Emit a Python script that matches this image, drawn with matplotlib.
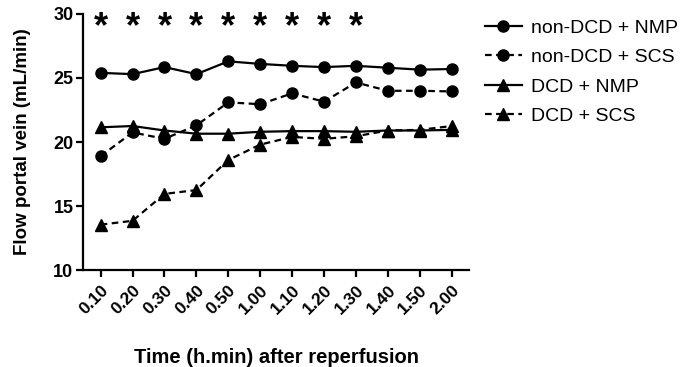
import matplotlib
matplotlib.use("Agg")
import matplotlib.pyplot as plt

plt.rcParams["font.family"] = ["Liberation Sans", "DejaVu Sans"]

time_labels = ["0.10", "0.20", "0.30", "0.40", "0.50", "1.00",
               "1.10", "1.20", "1.30", "1.40", "1.50", "2.00"]
non_dcd_nmp = [25.4, 25.3, 25.85, 25.3, 26.3, 26.1, 25.95, 25.85, 25.95, 25.8, 25.65, 25.7]
non_dcd_scs = [18.9, 20.75, 20.25, 21.3, 23.1, 22.95, 23.8, 23.15, 24.65, 24.0, 24.0, 23.95]
dcd_nmp = [21.15, 21.25, 20.9, 20.65, 20.65, 20.8, 20.85, 20.85, 20.8, 20.9, 20.9, 20.95]
dcd_scs = [13.55, 13.85, 15.95, 16.25, 18.6, 19.8, 20.4, 20.25, 20.45, 20.9, 20.95, 21.25]
signif = [True] * 9 + [False] * 3

x = list(range(len(time_labels)))

fig = plt.figure(figsize=(6.87, 3.67), dpi=100)
ax = fig.add_axes([0.121, 0.264, 0.562, 0.698])

ax.plot(x, non_dcd_nmp, "-", marker="o", color="black", lw=1.6, ms=8, label="non-DCD + NMP")
ax.plot(x, non_dcd_scs, "--", marker="o", color="black", lw=1.6, ms=8, dashes=(3, 2), label="non-DCD + SCS")
ax.plot(x, dcd_nmp, "-", marker="^", color="black", lw=1.6, ms=8, label="DCD + NMP")
ax.plot(x, dcd_scs, "--", marker="^", color="black", lw=1.6, ms=8, dashes=(3, 2), label="DCD + SCS")

for xi, s in zip(x, signif):
    if s:
        ax.text(xi, 28.9, "*", ha="center", va="center", fontsize=26, fontweight="bold")

ax.set_xlim(-0.55, 11.55)
ax.set_ylim(10, 30)
ax.set_yticks([10, 15, 20, 25, 30])
ax.set_xticks(x)
ax.set_xticklabels(time_labels, rotation=45, ha="right", rotation_mode="anchor")
ax.spines["top"].set_visible(False)
ax.spines["right"].set_visible(False)
for sp in ["left", "bottom"]:
    ax.spines[sp].set_linewidth(1.6)
ax.tick_params(width=1.6, length=5, direction="out")
ax.tick_params(axis="y", labelsize=13, pad=2)
ax.tick_params(axis="x", labelsize=12.5, pad=4)
for lab in ax.get_xticklabels() + ax.get_yticklabels():
    lab.set_fontweight("bold")

ax.set_ylabel("Flow portal vein (mL/min)", fontsize=13.5, fontweight="bold", labelpad=16)
ax.set_xlabel("Time (h.min) after reperfusion", fontsize=14.5, fontweight="bold", labelpad=22)

fig.legend(loc="upper left", bbox_to_anchor=(0.68, 0.995), frameon=False,
           fontsize=14, handlelength=1.9, labelspacing=0.6, handletextpad=0.5)

fig.savefig("out.png", dpi=100)
